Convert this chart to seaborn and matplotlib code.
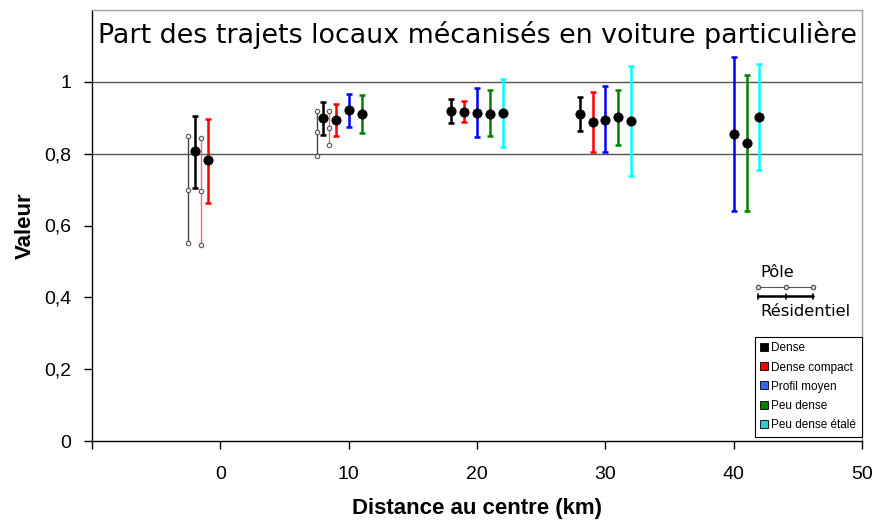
import pandas as pd
import matplotlib.pyplot as plt
import seaborn as sns

sns.set_theme(style="white")
plt.rcParams['font.family'] = ['Liberation Sans', 'DejaVu Sans']
plt.rcParams['text.color'] = 'black'
plt.rcParams['axes.labelcolor'] = 'black'

# Residentiel series (thick bars)
res_x = [-2, -1, 8, 9, 10, 11, 18, 19, 20, 21, 22, 28, 29, 30, 31, 32, 40, 41, 42]
res_type = ["Dense", "Dense compact",
            "Dense", "Dense compact", "Profil moyen", "Peu dense",
            "Dense", "Dense compact", "Profil moyen", "Peu dense", "Peu dense étalé",
            "Dense", "Dense compact", "Profil moyen", "Peu dense", "Peu dense étalé",
            "Profil moyen", "Peu dense", "Peu dense étalé"]
res_mean = [0.808, 0.781, 0.898, 0.895, 0.922, 0.911, 0.919, 0.916, 0.914, 0.911,
            0.914, 0.910, 0.888, 0.895, 0.901, 0.890, 0.854, 0.831, 0.901]
res_low = [0.705, 0.663, 0.851, 0.848, 0.874, 0.857, 0.884, 0.889, 0.847, 0.850,
           0.818, 0.864, 0.806, 0.806, 0.825, 0.738, 0.639, 0.641, 0.754]
res_high = [0.905, 0.897, 0.944, 0.939, 0.967, 0.963, 0.952, 0.946, 0.982, 0.978,
            1.008, 0.957, 0.971, 0.989, 0.977, 1.045, 1.070, 1.019, 1.050]

# Pôle series (thin bars)
pole_x = [-2.5, -1.5, 7.5, 8.5]
pole_type = ["Dense", "Dense compact", "Dense", "Dense compact"]
pole_mean = [0.699, 0.696, 0.859, 0.871]
pole_low = [0.550, 0.547, 0.794, 0.824]
pole_high = [0.848, 0.845, 0.920, 0.920]

types = ["Dense", "Dense compact", "Profil moyen", "Peu dense", "Peu dense étalé"]
bar_colors = {"Dense": "black", "Dense compact": "#ff0000", "Profil moyen": "#0000ff",
              "Peu dense": "#008000", "Peu dense étalé": "#00ffff"}
pole_colors = {"Dense": "#444444", "Dense compact": "#ff6666"}
legend_colors = ["black", "#ff0000", "#3366ff", "#008000", "#33cccc"]

x_ticks = [-10, 0, 10, 20, 30, 40, 50]
y_ticks = [0, 0.2, 0.4, 0.6, 0.8, 1.0]
y_tick_labels = ["0", "0,2", "0,4", "0,6", "0,8", "1"]

res = pd.DataFrame({"x": res_x, "type": res_type, "mean": res_mean,
                    "low": res_low, "high": res_high})
pole = pd.DataFrame({"x": pole_x, "type": pole_type, "mean": pole_mean,
                     "low": pole_low, "high": pole_high})
pole_long = pole.melt(id_vars=["x", "type"], value_vars=["low", "mean", "high"],
                      value_name="val")

fig = plt.figure(figsize=(8.76, 5.21), dpi=100)
ax = fig.add_axes([92 / 876, 80 / 521, 770 / 876, 431 / 521])

for yv in [0.8, 1.0]:
    ax.axhline(yv, color="#555555", lw=1, zorder=0)

# Pôle: thin lines with small open markers
for _, r in pole.iterrows():
    ax.vlines(r["x"], r["low"], r["high"], color=pole_colors[r["type"]], lw=1, zorder=2)
sns.scatterplot(data=pole_long, x="x", y="val", marker="o", s=10, facecolor="white",
                edgecolor="#555555", linewidth=0.8, ax=ax, zorder=3, legend=False)

# Résidentiel: thick bars with black caps
for _, r in res.iterrows():
    _, caps, _ = ax.errorbar(r["x"], r["mean"],
                             yerr=[[r["mean"] - r["low"]], [r["high"] - r["mean"]]],
                             fmt="none", ecolor=bar_colors[r["type"]], elinewidth=1.8,
                             capsize=2.5, capthick=1.8, zorder=2)
    for c in caps:
        c.set_color("black")
sns.scatterplot(data=res, x="x", y="mean", color="black", marker="o", s=45,
                edgecolor="black", ax=ax, zorder=4, legend=False)

ax.set_xlim(-10, 50)
ax.set_ylim(0, 1.2)
ax.set_xticks(x_ticks)
ax.set_xticklabels([""] + [str(v) for v in x_ticks[1:]])
ax.set_yticks(y_ticks)
ax.set_yticklabels(y_tick_labels)
ax.tick_params(axis="both", direction="out", length=6, width=1, color="black",
               labelsize=14, labelcolor="black", left=True, bottom=True)
ax.tick_params(axis="x", pad=12)
ax.tick_params(axis="y", pad=9)

for s in ["left", "bottom"]:
    ax.spines[s].set_color("black")
    ax.spines[s].set_linewidth(1)
for s in ["top", "right"]:
    ax.spines[s].set_color("#a0a0a0")
    ax.spines[s].set_linewidth(1)

ax.set_xlabel("Distance au centre (km)", fontsize=16, fontweight="bold", labelpad=11)
ax.set_ylabel("Valeur", fontsize=16, fontweight="bold", labelpad=6)

ax.text(0.5, 0.942, "Part des trajets locaux mécanisés en voiture particulière",
        transform=ax.transAxes, ha="center", va="center", fontsize=19.4,
        family="DejaVu Sans", color="black")

# Pôle / Résidentiel key
kx = [0.865, 0.901, 0.936]
ax.plot(kx, [0.357] * 3, transform=ax.transAxes, color="#555555", lw=0.8,
        marker="o", ms=3, mfc="white", mec="#555555", clip_on=False)
ax.plot([kx[0], kx[-1]], [0.336] * 2, transform=ax.transAxes, color="black", lw=1.8)
for xx in kx:
    ax.plot([xx, xx], [0.330, 0.342], transform=ax.transAxes, color="black", lw=1.2)
ax.text(0.868, 0.392, "Pôle", transform=ax.transAxes, ha="left", va="center",
        fontsize=11.8, family="DejaVu Sans", color="black")
ax.text(0.868, 0.300, "Résidentiel", transform=ax.transAxes, ha="left", va="center",
        fontsize=11.8, family="DejaVu Sans", color="black")

handles = [plt.Line2D([], [], ls="none", marker="s", ms=6, mfc=c, mec="black", mew=0.6)
           for c in legend_colors]
leg = ax.legend(handles, types, loc="lower right", bbox_to_anchor=(1.0, 0.01),
                borderaxespad=0, fancybox=False, framealpha=1, edgecolor="black",
                fontsize=8.5, handlelength=0.6, handletextpad=0.3, labelspacing=0.6,
                borderpad=0.5)
leg.get_frame().set_linewidth(0.8)
for t in leg.get_texts():
    t.set_color("black")

fig.savefig("out.png", dpi=100)
